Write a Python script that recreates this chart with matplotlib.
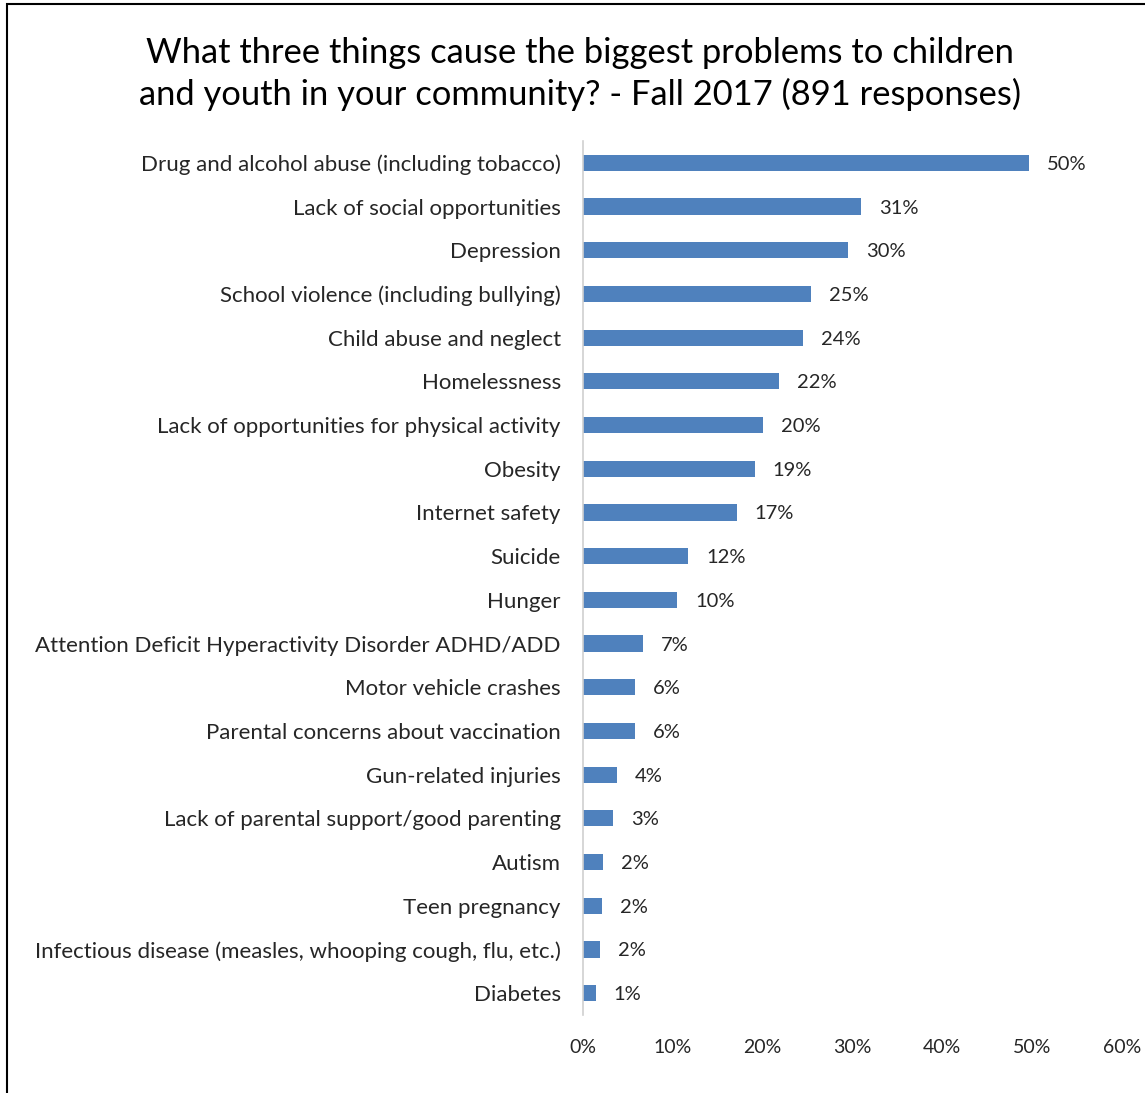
import matplotlib
matplotlib.use("Agg")
import matplotlib.pyplot as plt
from matplotlib.patches import Rectangle
from matplotlib.ticker import PercentFormatter

categories = [
    "Drug and alcohol abuse (including tobacco)",
    "Lack of social opportunities",
    "Depression",
    "School violence (including bullying)",
    "Child abuse and neglect",
    "Homelessness",
    "Lack of opportunities for physical activity",
    "Obesity",
    "Internet safety",
    "Suicide",
    "Hunger",
    "Attention Deficit Hyperactivity Disorder ADHD/ADD",
    "Motor vehicle crashes",
    "Parental concerns about vaccination",
    "Gun-related injuries",
    "Lack of parental support/good parenting",
    "Autism",
    "Teen pregnancy",
    "Infectious disease (measles, whooping cough, flu, etc.)",
    "Diabetes",
]
shares = [0.496, 0.309, 0.295, 0.254, 0.245, 0.218, 0.200, 0.191, 0.171, 0.117,
          0.105, 0.067, 0.058, 0.058, 0.038, 0.033, 0.022, 0.021, 0.019, 0.014]
x_ticks = [0, 0.1, 0.2, 0.3, 0.4, 0.5, 0.6]
title = ("What three things cause the biggest problems to children\n"
         "and youth in your community? - Fall 2017 (891 responses)")

plt.rcParams["font.family"] = ["Lato", "DejaVu Sans"]
text_color = "#262626"
bar_color = "#4F81BD"

fig = plt.figure(figsize=(11.45, 10.93), dpi=100)
# outer chart frame
fig.patches.append(Rectangle((7 / 1145, -0.01), 1.05, 1 - 4 / 1093 + 0.01,
                             transform=fig.transFigure, fill=False,
                             edgecolor="black", linewidth=1.5))

ax = fig.add_axes([583 / 1145, 1 - 1015 / 1093, (1122 - 583) / 1145, (1015 - 141) / 1093])
y = list(range(len(categories)))
ax.barh(y, shares, height=0.37, color=bar_color)
ax.set_ylim(len(categories) - 0.5, -0.5)
ax.set_xlim(0, 0.6)
ax.set_yticks(y)
ax.set_yticklabels(categories, fontsize=16, color=text_color)
ax.set_xticks(x_ticks)
ax.xaxis.set_major_formatter(PercentFormatter(1.0, decimals=0))
ax.tick_params(axis="x", labelsize=14, colors=text_color, length=0, pad=17)
ax.tick_params(axis="y", length=0, pad=16)
for s in ["top", "right", "bottom"]:
    ax.spines[s].set_visible(False)
ax.spines["left"].set_color("#D0D0D0")
ax.spines["left"].set_linewidth(1.2)

for yi, v in zip(y, shares):
    ax.annotate(f"{v:.0%}", (v, yi), xytext=(13, 0), textcoords="offset points",
                va="center_baseline", ha="left", fontsize=14.5, color=text_color)

fig.text(580 / 1145, 1 - 74 / 1093, title, ha="center", va="center",
         fontsize=24.8, color="black", linespacing=1.35)

fig.savefig("out.png", dpi=100)
